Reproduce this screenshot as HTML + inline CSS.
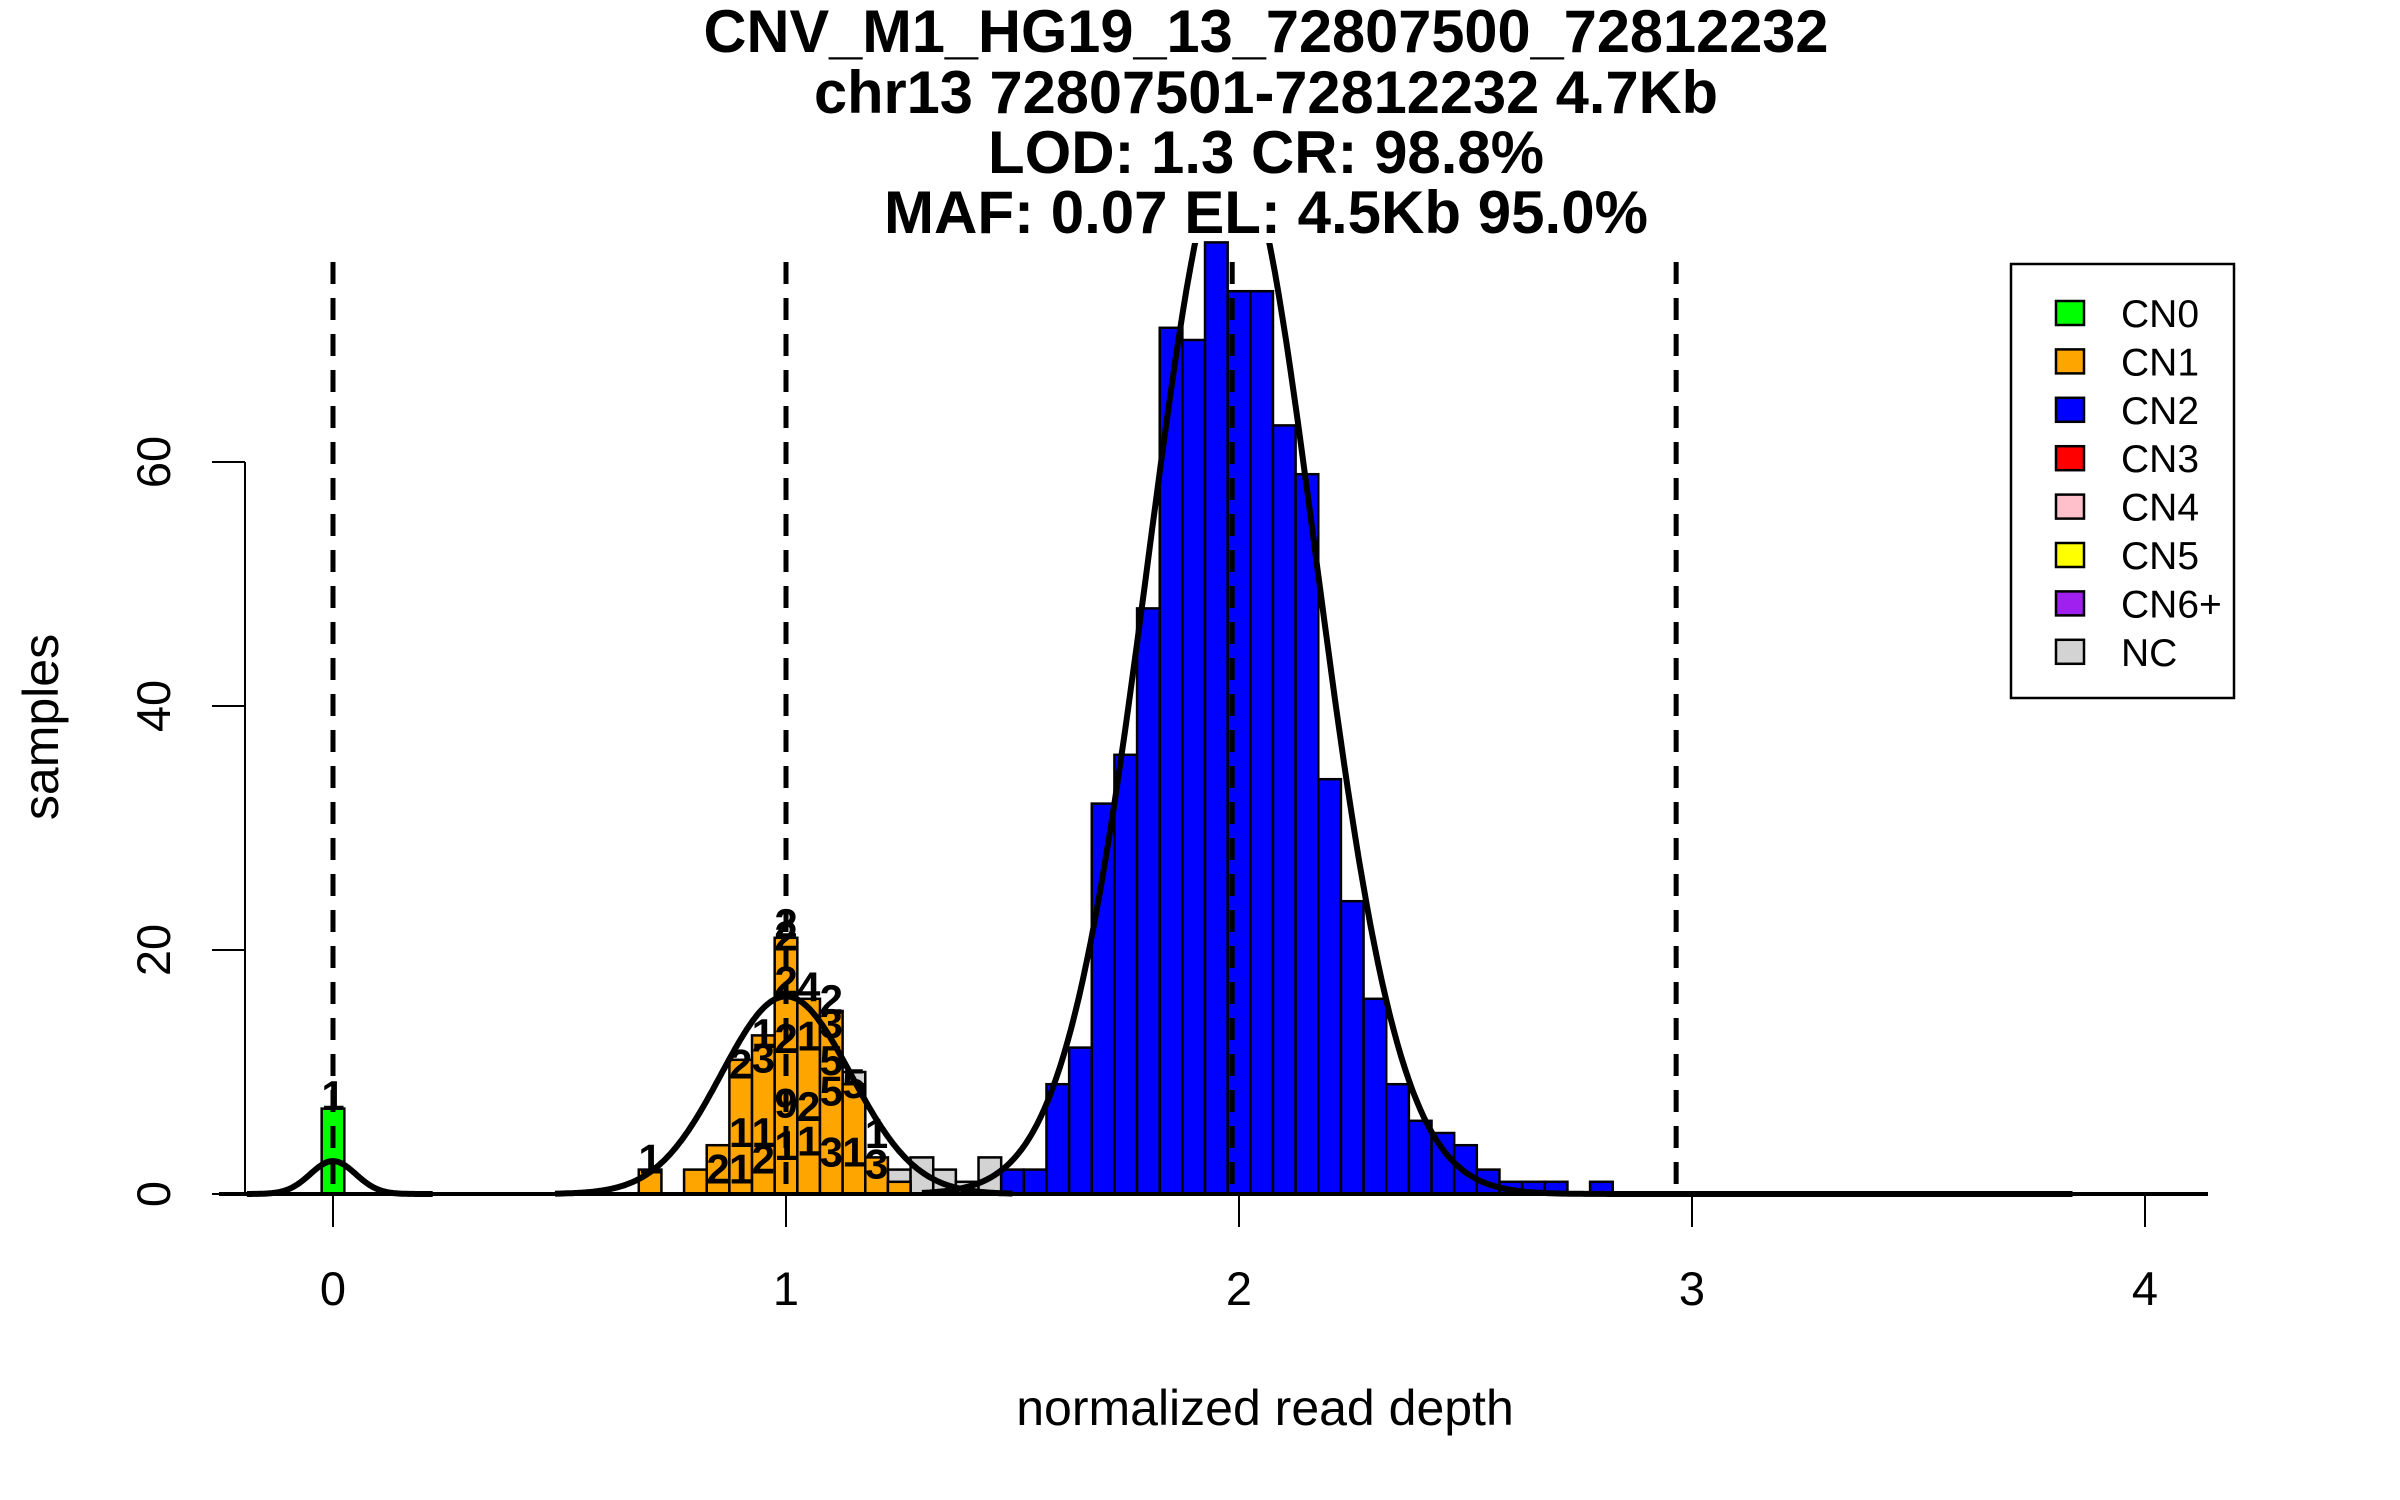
<!DOCTYPE html>
<html><head><meta charset="utf-8"><style>
html,body{margin:0;padding:0;background:#fff;}
svg{display:block;font-family:"Liberation Sans",sans-serif;}
</style></head><body>
<svg id="chart" width="2400" height="1500" viewBox="0 0 2400 1500" xmlns="http://www.w3.org/2000/svg">
<defs><clipPath id="plotclip"><rect x="200" y="243" width="2050" height="1000"/></clipPath></defs>
<g font-weight="bold" font-size="60" text-anchor="middle">
<text x="1266" y="52" textLength="1125" lengthAdjust="spacingAndGlyphs">CNV_M1_HG19_13_72807500_72812232</text>
<text x="1266" y="113" textLength="904" lengthAdjust="spacingAndGlyphs">chr13 72807501-72812232 4.7Kb</text>
<text x="1266" y="173" textLength="556" lengthAdjust="spacingAndGlyphs">LOD: 1.3 CR: 98.8%</text>
<text x="1266" y="233" textLength="764" lengthAdjust="spacingAndGlyphs">MAF: 0.07 EL: 4.5Kb 95.0%</text>
</g>
<g id="bars"></g>
<g id="dashes"></g>
<g id="curves" clip-path="url(#plotclip)"></g>
<g id="labels" font-weight="bold" font-size="42" text-anchor="middle"></g>
<g id="axes"></g>
<text x="1265" y="1425" font-size="50" text-anchor="middle">normalized read depth</text>
<text transform="translate(58,727) rotate(-90)" font-size="50" text-anchor="middle">samples</text>
<g>
<rect x="2011" y="264" width="223" height="434" fill="#fff" stroke="#000" stroke-width="2.5"/>
<g id="legend-items"></g>
</g>
</svg>
<script>
// ---- data ----
const greenBins = [0];
const greenCounts = [7];
const orangeBins = [0.70, 0.80, 0.85, 0.90, 0.95, 1.00, 1.05, 1.10, 1.15, 1.20, 1.25];
const orangeCounts = [2, 2, 4, 11, 13, 21, 16, 15, 9, 3, 1];
const grayBins = [1.15, 1.25, 1.30, 1.35, 1.40, 1.45];
const grayCounts = [10, 2, 3, 2, 1, 3];
const blueBins = [1.50,1.55,1.60,1.65,1.70,1.75,1.80,1.85,1.90,1.95,2.00,2.05,2.10,2.15,2.20,2.25,2.30,2.35,2.40,2.45,2.50,2.55,2.60,2.65,2.70,2.80];
const blueCounts = [2,2,9,12,32,36,48,71,70,78,74,74,63,59,34,24,16,9,6,5,4,2,1,1,1,1];
const dashedMeans = [0, 1.0, 1.985, 2.965];
const fitMeans = [0, 1.0, 1.985];
const fitSds = [0.05, 0.143, 0.185];
const fitPeaks = [2.7, 16.2, 86];
const fitFrom = [-0.19, 0.49, 1.3];
const fitTo = [0.22, 1.5, 3.84];
const xTicks = [0, 1, 2, 3, 4];
const yTicks = [0, 20, 40, 60];
const legendLabels = ["CN0","CN1","CN2","CN3","CN4","CN5","CN6+","NC"];
const legendColors = ["#00ff00","#ffa500","#0000ff","#ff0000","#ffc0cb","#ffff00","#a020f0","#d3d3d3"];
const labelX = [0.70,0.85,0.90,0.90,0.90,0.95,0.95,0.95,0.95,1.00,1.00,1.00,1.00,1.00,1.00,1.05,1.05,1.05,1.05,1.10,1.10,1.10,1.10,1.10,1.15,1.15,1.20,1.20,0];
const labelY = [2.9,2.1,5.1,2.1,10.7,11.2,13.2,5.1,2.9,4.0,12.8,21.2,22.2,17.5,7.5,17.0,13.0,7.2,4.4,16.0,14.0,11.0,8.5,3.5,9.1,3.5,5.0,2.5,8.1];
const labelText = ["1","2","1","1","2","3","1","1","2","1","2","2","2","2","9","4","1","2","1","2","3","5","5","3","5","1","1","3","1"];
// ---- scales ----
const X0 = 333, KX = 453, Y0 = 1194, KY = 12.2, BW = 0.05;
const sx = v => X0 + v * KX;
const sy = c => Y0 - c * KY;
const NS = "http://www.w3.org/2000/svg";
function mk(tag, parent, attrs) {
  const e = document.createElementNS(NS, tag);
  for (const k in attrs) e.setAttribute(k, attrs[k]);
  parent.appendChild(e);
  return e;
}
const bars = document.getElementById('bars');
function drawBars(bins, counts, color, name) {
  bins.forEach((b, i) => {
    const r = mk('rect', bars, {x: sx(b - BW/2), y: sy(counts[i]), width: KX*BW, height: counts[i]*KY, fill: color, stroke: '#000', 'stroke-width': 2.5});
    
    
  });
}
drawBars(grayBins, grayCounts, '#d3d3d3', 'nc');
drawBars(orangeBins, orangeCounts, '#ffa500', 'cn1');
drawBars(greenBins, greenCounts, '#00ff00', 'cn0');
drawBars(blueBins, blueCounts, '#0000ff', 'cn2');
// dashed lines
const dashes = document.getElementById('dashes');
dashedMeans.forEach((m, i) => {
  const l = mk('line', dashes, {x1: sx(m), x2: sx(m), y1: 262, y2: Y0, stroke: '#000', 'stroke-width': 5, 'stroke-dasharray': '22,14'});
  
  
});
// curves
const curves = document.getElementById('curves');
fitMeans.forEach((m, i) => {
  let d = '';
  const n = 300;
  for (let j = 0; j <= n; j++) {
    const v = fitFrom[i] + (fitTo[i] - fitFrom[i]) * j / n;
    const c = fitPeaks[i] * Math.exp(-((v - m) ** 2) / (2 * fitSds[i] ** 2));
    d += (j ? 'L' : 'M') + sx(v).toFixed(1) + ',' + sy(c).toFixed(1);
  }
  const p = mk('path', curves, {d: d, fill: 'none', stroke: '#000', 'stroke-width': 6});
  
  
});
// labels
const labels = document.getElementById('labels');
labelX.forEach((v, i) => {
  const t = mk('text', labels, {x: sx(v), y: sy(labelY[i]) + 15});
  t.textContent = labelText[i];
  
  
});
// axes
const axes = document.getElementById('axes');
const xa = mk('line', axes, {x1: 219, x2: 2208, y1: Y0, y2: Y0, stroke: '#000', 'stroke-width': 4});


xTicks.forEach(v => {
  const t = mk('line', axes, {x1: sx(v), x2: sx(v), y1: Y0, y2: Y0 + 33, stroke: '#000', 'stroke-width': 2});
  
  
  const lb = mk('text', axes, {x: sx(v), y: 1305, 'font-size': 47, 'text-anchor': 'middle'});
  lb.textContent = v;
  
  
});
const ya = mk('line', axes, {x1: 245, x2: 245, y1: sy(60), y2: Y0, stroke: '#000', 'stroke-width': 2});


yTicks.forEach(v => {
  const t = mk('line', axes, {x1: 212, x2: 245, y1: sy(v), y2: sy(v), stroke: '#000', 'stroke-width': 2});
  
  
  const lb = mk('text', axes, {transform: 'translate(170,' + sy(v) + ') rotate(-90)', 'font-size': 47, 'text-anchor': 'middle'});
  lb.textContent = v;
  
  
});
// legend
const lg = document.getElementById('legend-items');
legendLabels.forEach((s, i) => {
  const yy = 313 + i * 48.4;
  const r = mk('rect', lg, {x: 2056, y: yy - 12, width: 28, height: 24, fill: legendColors[i], stroke: '#000', 'stroke-width': 2.5});
  
  
  const t = mk('text', lg, {x: 2121, y: yy + 14, 'font-size': 39});
  t.textContent = s;
  
  
});
</script>
</body></html>
